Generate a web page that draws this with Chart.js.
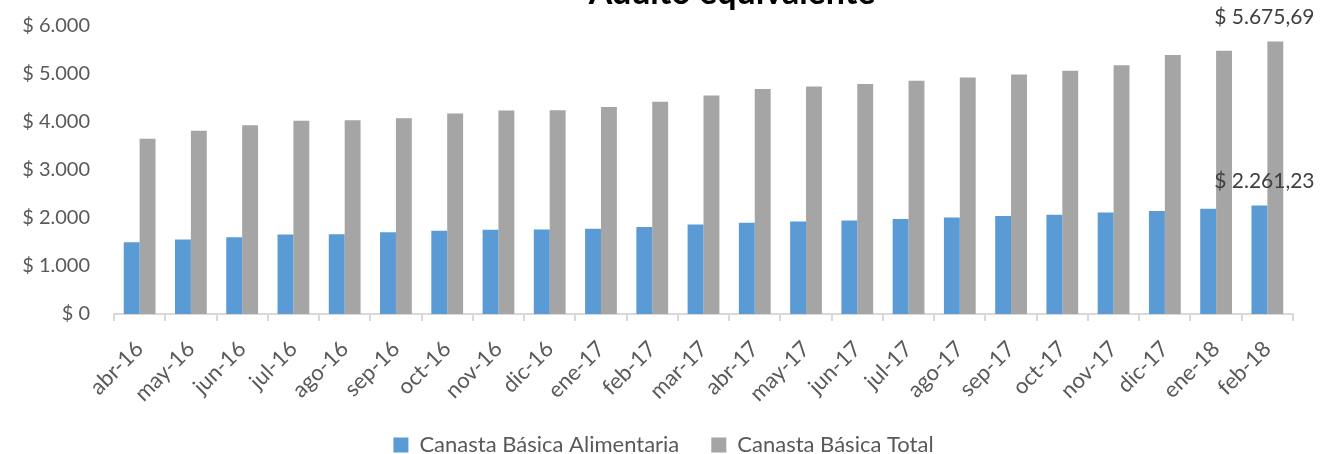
<!DOCTYPE html>
<html lang="es">
<head>
    <meta charset="UTF-8">
    <title>Adulto equivalente</title>
    <script src="https://cdn.jsdelivr.net/npm/chart.js"></script>
    <style>
        html, body {
            margin: 0;
            padding: 0;
            background: #ffffff;
        }
        #chart-container {
            width: 1327px;
            height: 454px;
        }
    </style>
</head>
<body>
    <div id="chart-container">
        <canvas id="cbChart"></canvas>
    </div>

    <script>
        const meses = ['abr-16', 'may-16', 'jun-16', 'jul-16', 'ago-16', 'sep-16', 'oct-16', 'nov-16', 'dic-16',
            'ene-17', 'feb-17', 'mar-17', 'abr-17', 'may-17', 'jun-17', 'jul-17', 'ago-17', 'sep-17', 'oct-17',
            'nov-17', 'dic-17', 'ene-18', 'feb-18'];
        const canastaAlimentaria = [1495, 1551, 1600, 1656, 1663, 1704, 1732, 1753, 1760, 1775, 1810, 1865, 1900,
            1928, 1948, 1977, 2012, 2040, 2068, 2117, 2145, 2195, 2261.23];
        const canastaTotal = [3650, 3816, 3934, 4025, 4039, 4080, 4178, 4240, 4247, 4310, 4421, 4553, 4686, 4741,
            4790, 4859, 4929, 4991, 5068, 5180, 5395, 5485, 5675.69];
        const yTicks = [0, 1000, 2000, 3000, 4000, 5000, 6000];

        const textColor = '#595959';
        const fontFamily = 'Lato, "Open Sans", sans-serif';

        // "$ 5.675,69" style
        function formatPesos(v, decimals) {
            const parts = v.toFixed(decimals).split('.');
            const entero = parts[0].replace(/\B(?=(\d{3})+(?!\d))/g, '.');
            return '$ ' + entero + (decimals > 0 ? ',' + parts[1] : '');
        }

        // title sits partly above the canvas, like the source image
        const titlePlugin = {
            id: 'cutTitle',
            afterDraw(chart) {
                const ctx = chart.ctx;
                ctx.save();
                ctx.font = 'bold 34px ' + fontFamily;
                ctx.fillStyle = '#000000';
                ctx.textAlign = 'center';
                ctx.textBaseline = 'alphabetic';
                ctx.fillText('Adulto equivalente', 732, 4);
                ctx.restore();
            }
        };

        // value labels only on the last month
        const lastLabelPlugin = {
            id: 'lastLabels',
            afterDatasetsDraw(chart) {
                const ctx = chart.ctx;
                const last = meses.length - 1;
                const xCenter = chart.scales.x.getPixelForValue(last);
                ctx.save();
                ctx.font = '21px ' + fontFamily;
                ctx.fillStyle = '#404040';
                ctx.textAlign = 'center';
                ctx.textBaseline = 'middle';
                chart.data.datasets.forEach((ds, i) => {
                    const bar = chart.getDatasetMeta(i).data[last];
                    ctx.fillText(formatPesos(ds.data[last], 2), xCenter - 3, bar.y - 24);
                });
                ctx.restore();
            }
        };

        const ctx = document.getElementById('cbChart').getContext('2d');
        new Chart(ctx, {
            type: 'bar',
            data: {
                labels: meses,
                datasets: [{
                    label: 'Canasta Básica Alimentaria',
                    data: canastaAlimentaria,
                    backgroundColor: '#5B9BD5',
                    barPercentage: 1.0,
                    categoryPercentage: 0.62
                }, {
                    label: 'Canasta Básica Total',
                    data: canastaTotal,
                    backgroundColor: '#A5A5A5',
                    barPercentage: 1.0,
                    categoryPercentage: 0.62
                }]
            },
            options: {
                responsive: true,
                maintainAspectRatio: false,
                animation: false,
                layout: {
                    padding: { top: 26, right: 0, left: 0, bottom: -12 }
                },
                plugins: {
                    legend: {
                        position: 'bottom',
                        labels: {
                            boxWidth: 15,
                            boxHeight: 15,
                            padding: 32,
                            color: textColor,
                            font: { family: fontFamily, size: 22 }
                        }
                    },
                    tooltip: { enabled: false }
                },
                scales: {
                    x: {
                        grid: {
                            display: true,
                            drawOnChartArea: false,
                            drawTicks: true,
                            tickLength: 7,
                            color: '#D9D9D9',
                            lineWidth: 2,
                            offset: true
                        },
                        border: { display: true, color: '#D9D9D9', width: 2 },
                        ticks: {
                            color: textColor,
                            font: { family: fontFamily, size: 22 },
                            minRotation: 45,
                            maxRotation: 45,
                            autoSkip: false,
                            padding: 15
                        },
                        afterFit(scale) { scale.height = 88; }
                    },
                    y: {
                        min: 0,
                        max: 6000,
                        afterBuildTicks(scale) {
                            scale.ticks = yTicks.map(v => ({ value: v }));
                        },
                        grid: { display: false, drawTicks: false },
                        border: { display: false },
                        ticks: {
                            color: textColor,
                            font: { family: fontFamily, size: 20 },
                            padding: 24,
                            callback: v => formatPesos(v, 0)
                        },
                        afterFit(scale) {
                            scale.width = 114;
                            scale.paddingTop = 0;
                            scale.paddingBottom = 0;
                        }
                    },
                    // empty right-hand space, keeps the legend centred on the page
                    derecha: {
                        type: 'linear',
                        position: 'right',
                        display: true,
                        grid: { display: false, drawTicks: false },
                        border: { display: false },
                        ticks: { display: false },
                        afterFit(scale) {
                            scale.width = 34;
                            scale.paddingTop = 0;
                            scale.paddingBottom = 0;
                        }
                    }
                }
            },
            plugins: [titlePlugin, lastLabelPlugin]
        });
    </script>
</body>
</html>
